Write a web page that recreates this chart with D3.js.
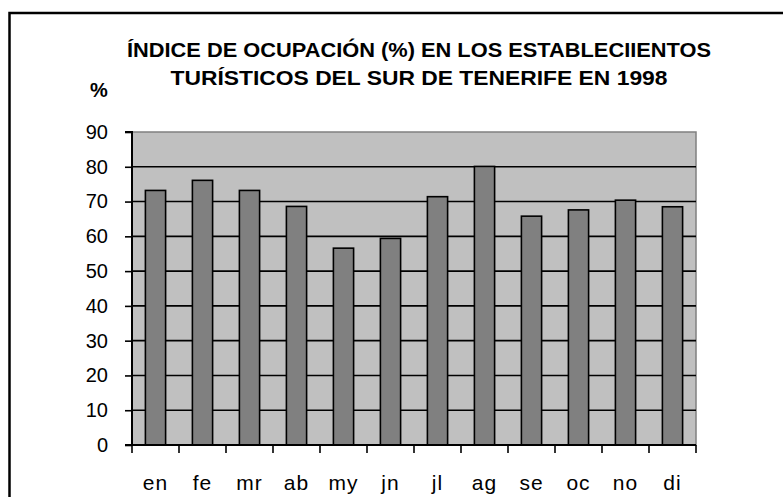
<!DOCTYPE html>
<html><head><meta charset="utf-8">
<script src="https://cdn.jsdelivr.net/npm/d3@7"></script>
<style>body{margin:0;background:#fff}svg{display:block}</style>
</head><body>
<svg id="c" width="783" height="497"></svg>
<script>
const months = ["en","fe","mr","ab","my","jn","jl","ag","se","oc","no","di"];
const values = [73.2,76.1,73.2,68.6,56.6,59.4,71.4,80.1,65.8,67.6,70.4,68.5];
const yTicks = [0,10,20,30,40,50,60,70,80,90];
const titleLines = ["ÍNDICE DE OCUPACIÓN (%) EN LOS ESTABLECIIENTOS","TURÍSTICOS DEL SUR DE TENERIFE EN 1998"];
const yLabel = "%";

const svg = d3.select("#c");
const L=132, R=696, T=132, B=445;
const x = d3.scaleBand().domain(months).range([L,R]).paddingInner(0.57).paddingOuter(0.285);
const xb = d3.scaleBand().domain(months).range([L,R]);
const y = d3.scaleLinear().domain([0,90]).range([B,T]);
const FF = "Liberation Sans, Arial, sans-serif";

// outer frame
svg.append("rect").attr("x",9.5).attr("y",13).attr("width",900).attr("height",600)
  .attr("fill","none").attr("stroke","#000").attr("stroke-width",2.5);

// plot background
svg.append("rect").attr("x",L).attr("y",T).attr("width",R-L).attr("height",B-T)
  .attr("fill","#c0c0c0").attr("stroke","#808080").attr("stroke-width",1.5);

// gridlines
svg.append("g").selectAll("line").data(yTicks.filter(d=>d>0&&d<90)).join("line")
  .attr("x1",L).attr("x2",R).attr("y1",d=>y(d)).attr("y2",d=>y(d))
  .attr("stroke","#000").attr("stroke-width",1.6);

// bars
svg.append("g").selectAll("rect").data(values).join("rect")
  .attr("x",(d,i)=>x(months[i])).attr("width",x.bandwidth())
  .attr("y",d=>y(d)).attr("height",d=>B-y(d))
  .attr("fill","#808080").attr("stroke","#000").attr("stroke-width",1.6);

// y axis
const ya = d3.axisLeft(y).tickValues(yTicks).tickSize(7).tickPadding(17);
const gy = svg.append("g").attr("transform",`translate(${L},0)`).call(ya);
gy.select(".domain").attr("stroke","#000").attr("stroke-width",2).attr("d",`M-7,${T}H0V${B}H-7`);
gy.selectAll(".tick line").attr("stroke","#000").attr("stroke-width",1.6);
gy.selectAll(".tick text").attr("font-family",FF).attr("font-size",20).attr("fill","#000");

// x axis: ticks at band boundaries
const gx = svg.append("g");
gx.append("line").attr("x1",L).attr("x2",R).attr("y1",B).attr("y2",B).attr("stroke","#000").attr("stroke-width",2);
const bounds = months.map(m=>xb(m)).concat([R]);
gx.selectAll("line.t").data(bounds).join("line").attr("class","t")
  .attr("x1",d=>d).attr("x2",d=>d).attr("y1",B).attr("y2",B+8).attr("stroke","#000").attr("stroke-width",1.6);
gx.selectAll("text").data(months).join("text")
  .attr("x",d=>xb(d)+xb.bandwidth()/2).attr("y",490)
  .attr("text-anchor","middle").attr("font-family",FF)
  .attr("font-size",21).attr("letter-spacing",1).text(d=>d);

// title
const tl = [{t:titleLines[0],y:57,w:584},{t:titleLines[1],y:85,w:497}];
svg.selectAll("text.title").data(tl).join("text").attr("class","title")
  .attr("x",419).attr("y",d=>d.y).attr("text-anchor","middle")
  .attr("font-family",FF).attr("font-weight","bold")
  .attr("font-size",21).attr("textLength",d=>d.w).attr("lengthAdjust","spacingAndGlyphs")
  .text(d=>d.t);
svg.append("text").attr("x",99).attr("y",97).attr("text-anchor","middle")
  .attr("font-family",FF).attr("font-weight","bold")
  .attr("font-size",20).text(yLabel);
</script>
</body></html>
